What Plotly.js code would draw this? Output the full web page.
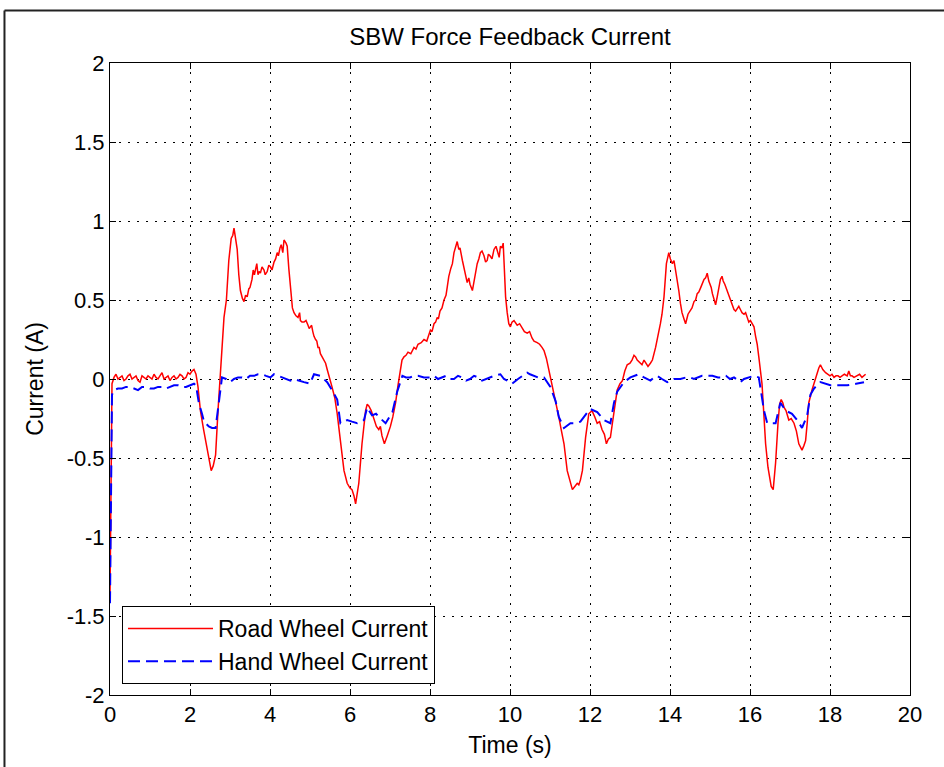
<!DOCTYPE html>
<html>
<head>
<meta charset="utf-8">
<script src="https://cdn.plot.ly/plotly-3.0.1.min.js"></script>
<style>html,body{margin:0;padding:0;background:#fff}#chart{width:944px;height:767px}</style>
</head>
<body>
<div id="chart"></div>
<script>
const titleText = "SBW Force Feedback Current";
const xTitle = "Time (s)";
const yTitle = "Current (A)";
const seriesNames = ["Road Wheel Current", "Hand Wheel Current"];

const xTickVals = [0,2,4,6,8,10,12,14,16,18,20];
const xTickText = ["0","2","4","6","8","10","12","14","16","18","20"];
const yTickVals = [-2,-1.5,-1,-0.5,0,0.5,1,1.5,2];
const yTickText = ["-2","-1.5","-1","-0.5","0","0.5","1","1.5","2"];

const roadTime = [0,0.05,0.1,0.15,0.2,0.25,0.3,0.35,0.4,0.45,0.5,0.55,0.6,0.65,0.7,0.75,0.8,0.85,0.9,0.95,1.0,1.05,1.1,1.15,1.2,1.25,1.3,1.35,1.4,1.45,1.5,1.55,1.6,1.65,1.7,1.75,1.8,1.85,1.9,1.95,2.0,2.05,2.1,2.15,2.2,2.26,2.34,2.42,2.47,2.53,2.58,2.64,2.70,2.76,2.85,2.91,2.97,3.03,3.07,3.10,3.14,3.18,3.22,3.26,3.31,3.35,3.39,3.43,3.47,3.5,3.55,3.58,3.61,3.64,3.67,3.7,3.73,3.76,3.8,3.85,3.88,3.93,3.97,4.01,4.05,4.1,4.14,4.18,4.21,4.25,4.28,4.32,4.35,4.4,4.43,4.47,4.51,4.56,4.6,4.65,4.7,4.74,4.76,4.8,4.85,4.9,4.95,4.98,5.01,5.04,5.07,5.1,5.14,5.17,5.2,5.23,5.26,5.3,5.35,5.39,5.43,5.49,5.55,5.62,5.68,5.76,5.85,5.93,6.0,6.05,6.1,6.14,6.18,6.22,6.30,6.39,6.43,6.47,6.53,6.6,6.66,6.72,6.76,6.8,6.86,6.93,7.01,7.07,7.14,7.2,7.26,7.3,7.35,7.4,7.45,7.52,7.6,7.65,7.7,7.78,7.85,7.92,8.01,8.05,8.1,8.14,8.18,8.21,8.25,8.3,8.35,8.4,8.43,8.47,8.52,8.56,8.6,8.68,8.72,8.75,8.81,8.87,8.93,8.97,9.0,9.06,9.12,9.18,9.22,9.26,9.3,9.35,9.39,9.43,9.46,9.5,9.55,9.6,9.65,9.7,9.73,9.76,9.8,9.83,9.86,9.89,9.93,9.97,10.01,10.05,10.1,10.18,10.24,10.3,10.36,10.43,10.49,10.55,10.6,10.68,10.74,10.8,10.85,10.91,10.97,11.03,11.1,11.16,11.22,11.28,11.35,11.43,11.5,11.56,11.62,11.68,11.72,11.76,11.81,11.89,11.97,12.05,12.12,12.18,12.24,12.3,12.36,12.41,12.46,12.51,12.56,12.6,12.68,12.75,12.81,12.87,12.93,13.0,13.05,13.1,13.14,13.18,13.22,13.26,13.3,13.35,13.4,13.45,13.51,13.56,13.64,13.7,13.76,13.8,13.85,13.91,13.97,14.01,14.06,14.1,14.14,14.18,14.22,14.26,14.3,14.35,14.39,14.45,14.51,14.55,14.6,14.64,14.68,14.72,14.77,14.8,14.85,14.89,14.93,14.97,15.0,15.03,15.06,15.1,15.14,15.18,15.22,15.26,15.3,15.33,15.37,15.4,15.43,15.47,15.5,15.55,15.6,15.64,15.68,15.72,15.76,15.8,15.85,15.89,15.93,15.97,16.01,16.06,16.1,16.14,16.18,16.22,16.26,16.3,16.35,16.39,16.45,16.53,16.58,16.64,16.7,16.74,16.78,16.82,16.85,16.9,16.97,17.03,17.1,17.16,17.22,17.26,17.3,17.35,17.39,17.43,17.47,17.55,17.62,17.68,17.72,17.76,17.82,17.89,17.95,18.0,18.05,18.1,18.15,18.2,18.25,18.3,18.36,18.43,18.47,18.51,18.55,18.6,18.68,18.74,18.8,18.85,18.89];
const roadCurrent = [-1.38,-0.03,0.01,0.03,0.0,0.01,0.02,-0.01,0.0,0.02,0.03,0.0,0.01,0.02,-0.01,-0.02,0.02,0.01,0.0,0.02,0.01,0.0,0.03,0.01,0.0,0.02,0.04,0.0,0.01,0.02,-0.01,0.01,0.02,0.0,0.01,0.03,0.02,0.0,0.01,0.04,0.03,0.05,0.06,0.03,-0.05,-0.2,-0.32,-0.42,-0.5,-0.58,-0.55,-0.48,-0.2,0.01,0.39,0.5,0.75,0.89,0.91,0.955,0.9,0.82,0.66,0.56,0.51,0.49,0.53,0.52,0.57,0.58,0.63,0.69,0.66,0.71,0.73,0.66,0.68,0.67,0.71,0.69,0.66,0.68,0.72,0.71,0.69,0.74,0.76,0.8,0.78,0.83,0.85,0.8,0.88,0.86,0.84,0.7,0.58,0.45,0.42,0.4,0.39,0.42,0.37,0.36,0.36,0.37,0.34,0.32,0.33,0.34,0.3,0.27,0.25,0.24,0.2,0.2,0.16,0.14,0.11,0.1,0.06,0.01,-0.05,-0.12,-0.22,-0.39,-0.58,-0.66,-0.69,-0.7,-0.74,-0.79,-0.72,-0.66,-0.41,-0.2,-0.16,-0.17,-0.2,-0.26,-0.3,-0.32,-0.3,-0.36,-0.41,-0.36,-0.3,-0.24,-0.15,-0.04,0.06,0.12,0.14,0.15,0.17,0.16,0.2,0.19,0.22,0.23,0.25,0.24,0.31,0.3,0.35,0.36,0.39,0.38,0.43,0.45,0.5,0.53,0.58,0.65,0.7,0.73,0.8,0.87,0.82,0.83,0.75,0.68,0.61,0.64,0.6,0.56,0.65,0.73,0.76,0.8,0.81,0.78,0.74,0.75,0.79,0.78,0.76,0.82,0.84,0.79,0.77,0.84,0.83,0.86,0.7,0.52,0.42,0.35,0.33,0.36,0.37,0.34,0.35,0.32,0.3,0.29,0.3,0.26,0.24,0.23,0.22,0.2,0.18,0.13,0.06,0.0,-0.09,-0.15,-0.24,-0.32,-0.41,-0.58,-0.64,-0.7,-0.68,-0.66,-0.67,-0.64,-0.58,-0.37,-0.22,-0.2,-0.24,-0.28,-0.27,-0.32,-0.35,-0.41,-0.38,-0.37,-0.28,-0.2,-0.07,-0.03,-0.01,0.05,0.09,0.1,0.12,0.15,0.14,0.12,0.11,0.1,0.09,0.12,0.1,0.08,0.1,0.12,0.2,0.27,0.35,0.41,0.52,0.73,0.8,0.76,0.73,0.75,0.69,0.62,0.56,0.48,0.42,0.38,0.35,0.41,0.44,0.45,0.49,0.5,0.54,0.55,0.58,0.6,0.63,0.64,0.67,0.62,0.6,0.58,0.54,0.5,0.47,0.52,0.58,0.63,0.65,0.62,0.6,0.58,0.56,0.52,0.5,0.47,0.44,0.43,0.45,0.46,0.44,0.42,0.41,0.42,0.39,0.36,0.37,0.35,0.33,0.27,0.22,0.14,0.06,-0.03,-0.24,-0.41,-0.56,-0.68,-0.7,-0.53,-0.28,-0.16,-0.13,-0.15,-0.18,-0.2,-0.26,-0.25,-0.28,-0.33,-0.41,-0.43,-0.45,-0.42,-0.39,-0.28,-0.15,-0.07,-0.01,0.04,0.07,0.09,0.06,0.04,0.03,0.02,0.03,0.01,0.02,0.02,0.01,0.02,0.03,0.02,0.05,0.02,0.02,0.01,0.02,0.03,0.01,0.02,0.03];

const handTime = [0,0.05,0.1,0.2,0.3,0.4,0.5,0.6,0.7,0.8,0.9,1.0,1.1,1.2,1.3,1.4,1.5,1.6,1.7,1.8,1.9,2.0,2.1,2.15,2.22,2.3,2.35,2.47,2.55,2.64,2.72,2.8,2.9,3.0,3.1,3.2,3.3,3.4,3.5,3.6,3.7,3.8,3.9,4.01,4.1,4.2,4.3,4.4,4.51,4.6,4.7,4.85,5.0,5.1,5.26,5.35,5.43,5.55,5.68,5.76,5.85,5.93,6.05,6.18,6.35,6.43,6.55,6.65,6.72,6.8,6.89,7.06,7.18,7.31,7.4,7.5,7.6,7.7,7.85,8.0,8.1,8.2,8.3,8.4,8.5,8.6,8.7,8.8,8.9,9.0,9.1,9.2,9.3,9.4,9.5,9.6,9.76,9.85,9.93,10.05,10.2,10.3,10.43,10.5,10.6,10.7,10.85,11.01,11.14,11.22,11.35,11.51,11.65,11.76,11.97,12.01,12.18,12.35,12.51,12.6,12.68,12.85,13.01,13.1,13.22,13.35,13.51,13.6,13.68,13.8,13.93,14.1,14.26,14.4,14.5,14.6,14.7,14.8,14.9,15.06,15.2,15.3,15.4,15.5,15.6,15.76,15.85,15.95,16.1,16.22,16.3,16.35,16.43,16.55,16.64,16.76,16.89,17.05,17.18,17.3,17.43,17.51,17.6,17.76,17.9,18.01,18.2,18.43,18.65,18.85];
const handCurrent = [-1.42,-0.1,-0.07,-0.06,-0.06,-0.05,-0.05,-0.06,-0.07,-0.05,-0.05,-0.06,-0.06,-0.05,-0.05,-0.06,-0.05,-0.04,-0.04,-0.05,-0.05,-0.04,-0.03,-0.04,-0.15,-0.22,-0.27,-0.3,-0.31,-0.31,-0.13,0.01,0.0,-0.02,0.0,0.01,0.01,0.0,0.02,0.02,0.03,0.03,0.02,0.01,0.03,0.02,0.01,0.0,-0.01,0.0,-0.01,-0.02,-0.03,0.03,0.02,0.0,-0.02,-0.07,-0.13,-0.28,-0.27,-0.26,-0.27,-0.28,-0.26,-0.18,-0.23,-0.22,-0.24,-0.26,-0.28,-0.21,-0.08,0.02,0.01,0.01,0.02,0.02,0.01,0.01,0.02,0.0,0.01,0.02,0.0,0.0,0.02,0.01,-0.01,0.0,0.02,0.01,-0.01,0.0,0.01,0.02,0.03,0.0,-0.01,-0.03,0.0,0.02,0.04,0.03,0.02,0.01,0.01,-0.05,-0.14,-0.24,-0.31,-0.28,-0.28,-0.27,-0.2,-0.19,-0.21,-0.26,-0.28,-0.15,-0.08,-0.02,0.01,0.02,0.03,0.01,-0.01,0.01,0.02,0.0,-0.02,0.0,0.0,0.01,0.01,0.0,0.01,0.02,0.02,0.02,0.01,0.01,0.02,0.0,0.01,-0.02,0.0,0.01,0.02,0.01,-0.12,-0.2,-0.28,-0.28,-0.28,-0.15,-0.2,-0.22,-0.26,-0.31,-0.23,-0.1,-0.06,-0.02,-0.03,-0.04,-0.04,-0.04,-0.03,-0.02];

const FONT = "Liberation Sans, Arial, sans-serif";

const traces = [
  {x: roadTime, y: roadCurrent, name: seriesNames[0], type: "scatter", mode: "lines",
   line: {color: "#ff0000", width: 1.5}},
  {x: handTime, y: handCurrent, name: seriesNames[1], type: "scatter", mode: "lines",
   line: {color: "#0000ff", width: 2, dash: "12px,6px"}}
];

const axisCommon = {
  showline: true, linecolor: "#000", linewidth: 1, mirror: "ticks",
  ticks: "inside", ticklen: 6, tickcolor: "#000", tickwidth: 1,
  showgrid: true, gridcolor: "#000", gridwidth: 1, griddash: "1.5px,7.5px",
  zeroline: false, tickfont: {family: FONT, size: 22, color: "#000"}
};

const layout = {
  width: 944, height: 767,
  paper_bgcolor: "#fff", plot_bgcolor: "#fff",
  margin: {l: 110, r: 34, t: 63, b: 72},
  showlegend: true,
  title: {text: titleText, font: {family: FONT, size: 24, color: "#000"},
          x: 0.5, xref: "paper", xanchor: "center", y: 1 - 37/767, yref: "container", yanchor: "middle"},
  xaxis: Object.assign({}, axisCommon, {
    range: [0, 20], tickmode: "array", tickvals: xTickVals, ticktext: xTickText,
    title: {text: xTitle, font: {family: FONT, size: 23, color: "#000"}, standoff: 10}
  }),
  yaxis: Object.assign({}, axisCommon, {
    range: [-2, 2], tickmode: "array", tickvals: yTickVals, ticktext: yTickText,
    title: {text: yTitle, font: {family: FONT, size: 23, color: "#000"}, standoff: 16}
  }),
  legend: {
    x: 0.015, y: 0.1408, xanchor: "left", yanchor: "top",
    bgcolor: "#fff", bordercolor: "#000", borderwidth: 1,
    font: {family: FONT, size: 23, color: "#000"}, itemwidth: 85, tracegroupgap: 0,
    entrywidth: 329, entrywidthmode: "pixels"
  },
  shapes: [
    {type: "line", xref: "paper", yref: "paper", x0: -0.1319, x1: -0.1319, y0: 1.0831, y1: -0.14,
     line: {color: "#222", width: 2}},
    {type: "line", xref: "paper", yref: "paper", x0: -0.1319, x1: 1.07, y0: 1.0831, y1: 1.0831,
     line: {color: "#222", width: 2}}
  ]
};

Plotly.newPlot("chart", traces, layout, {displayModeBar: false, staticPlot: true});
</script>
</body>
</html>
